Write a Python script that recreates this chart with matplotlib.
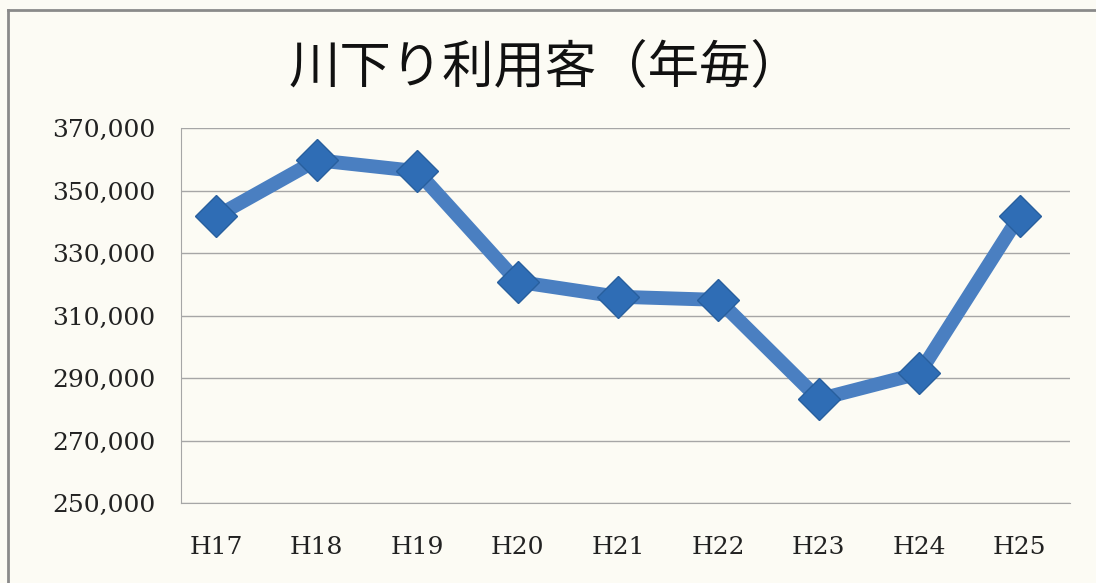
import matplotlib
matplotlib.use("Agg")
from matplotlib import pyplot as plt
from matplotlib.lines import Line2D
from matplotlib.ticker import FuncFormatter

YEARS = ["H17", "H18", "H19", "H20", "H21", "H22", "H23", "H24", "H25"]
VISITORS = [341700, 359700, 356200, 320800, 316000, 315000, 283200, 291500, 342000]
TITLE = "川下り利用客（年毎）"

BG = "#fcfbf4"
LINE_BLUE = "#4a7fc1"
MARKER_BLUE = "#2f6db5"
GRID = "#a6a6a6"

fig = plt.figure(figsize=(10.96, 5.83), dpi=100, facecolor=BG)
ax = fig.add_axes([181 / 1096, 1 - 503 / 583, (1070 - 181) / 1096, (503 - 128) / 583])
ax.set_facecolor(BG)

x = list(range(len(YEARS)))
ax.plot(x, VISITORS, color=LINE_BLUE, linewidth=10, solid_joinstyle="round", zorder=3)
ax.plot(x, VISITORS, linestyle="none", marker="D", markersize=21,
        markerfacecolor=MARKER_BLUE, markeredgecolor="#285f9e", markeredgewidth=1, zorder=4)

ax.set_ylim(250000, 370000)
ax.set_yticks(range(250000, 370001, 20000))
ax.yaxis.set_major_formatter(FuncFormatter(lambda v, _: f"{int(v):,}"))
ax.set_xlim(-0.35, 8.5)
ax.set_xticks(x)
ax.set_xticklabels(YEARS)

ax.grid(axis="y", color=GRID, linewidth=1)
ax.set_axisbelow(True)
for side in ("top", "right"):
    ax.spines[side].set_visible(False)
for side in ("left", "bottom"):
    ax.spines[side].set_color(GRID)
ax.tick_params(length=0, labelsize=18, colors="#222222")
ax.tick_params(axis="y", pad=18.5)
ax.tick_params(axis="x", pad=24)
for lab in ax.get_xticklabels() + ax.get_yticklabels():
    lab.set_fontfamily("DejaVu Serif")

fig.text(545 / 1096, 1 - 68 / 583, TITLE, ha="center", va="center", fontsize=37,
         family=["Noto Sans CJK JP", "DejaVu Sans"], color="#111111")

# outer chart frame (top and left edges visible in the scan)
fig.add_artist(Line2D([8 / 1096, 1], [1 - 10 / 583, 1 - 10 / 583], color="#8a8a8a", linewidth=2,
                      transform=fig.transFigure))
fig.add_artist(Line2D([8 / 1096, 8 / 1096], [0, 1 - 10 / 583], color="#8a8a8a", linewidth=2,
                      transform=fig.transFigure))

fig.savefig("out.png", dpi=100, facecolor=BG)
